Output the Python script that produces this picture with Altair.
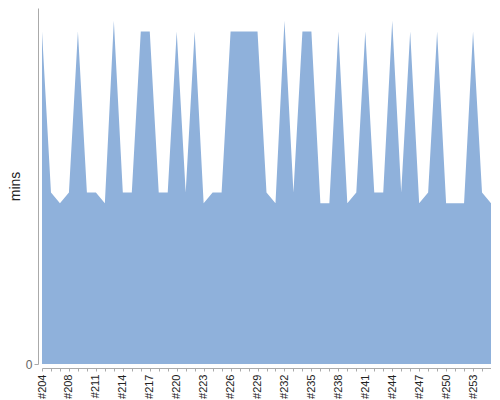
import altair as alt
import pandas as pd

categories = ["#204", "#205", "#206"] + [f"#{n}" for n in range(208, 256)]
mins = [31, 16, 15, 16, 31, 16, 16, 15, 32, 16,
        16, 31, 31, 16, 16, 31, 16, 31, 15, 16,
        16, 31, 31, 31, 31, 16, 15, 32, 16, 31,
        31, 15, 15, 31, 15, 16, 31, 16, 16, 32,
        16, 31, 15, 16, 31, 15, 15, 15, 31, 16,
        15]
shown_labels = categories[::3]

df = pd.DataFrame({"run": categories, "mins": mins})

label_list = "[" + ",".join(f"'{s}'" for s in shown_labels) + "]"

chart = alt.Chart(df).mark_area(color="#8FB1DB", opacity=1, interpolate="linear").encode(
    x=alt.X("run:O", sort=categories,
            scale=alt.Scale(type="point", padding=0),
            axis=alt.Axis(title=None, offset=4, tickSize=3, labelAngle=270,
                          labelPadding=3, labelFontSize=11, labelColor="#222",
                          labelFont="Liberation Sans", labelOverlap=False,
                          labelExpr=f"indexof({label_list}, datum.value) >= 0 ? datum.label : ''",
                          domainColor="#aaaaaa", tickColor="#aaaaaa", grid=False)),
    y=alt.Y("mins:Q", scale=alt.Scale(domain=[0, 33.2], nice=False, zero=True),
            axis=alt.Axis(title="mins", values=[0], offset=4, tickSize=4, labelPadding=2,
                          labelFontSize=12, labelColor="#666666", labelFont="Liberation Sans",
                          titleFont="Liberation Sans", titleFontSize=14, titleFontWeight="normal",
                          titleColor="#222222", titlePadding=3,
                          domainColor="#aaaaaa", tickColor="#aaaaaa", grid=False)),
).properties(
    width=449, height=356,
    autosize=alt.AutoSizeParams(type="none"),
    padding={"left": 34, "top": 0, "right": 0, "bottom": 36},
).configure_view(stroke=None)

chart.save("out.html", embed_options={"renderer": "svg", "actions": False})
